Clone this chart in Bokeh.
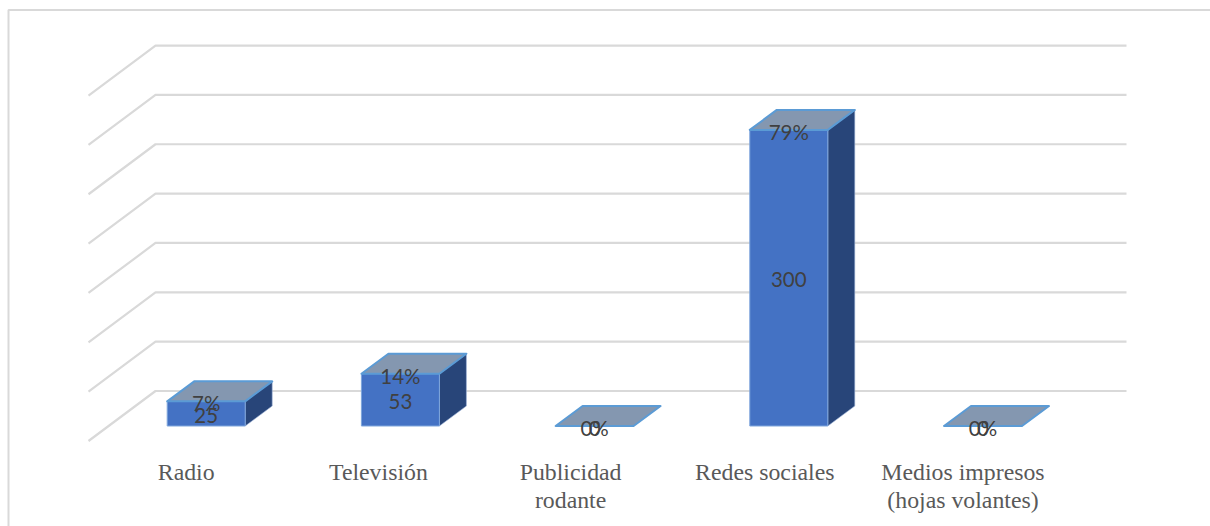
from bokeh.embed import file_html
from bokeh.resources import INLINE
from bokeh.models import Range1d, ColumnDataSource
from bokeh.plotting import figure
from bokeh.core.properties import value

# Survey results per advertising medium
categories = ["Radio", "Televisión", "Publicidad\nrodante", "Redes sociales", "Medios impresos\n(hojas volantes)"]
counts = [25, 53, 0, 300, 0]
percents = ["7%", "14%", "0%", "79%", "0%"]
grid_values = [0, 50, 100, 150, 200, 250, 300, 350]

W, H = 1210, 526

# Pixel scale of the plot: one category step and one count unit
STEP = 194.2
UNIT = 0.987
X0 = 205.7
Y0 = 425.5

def dx(px):
    return px / STEP

def dy(px):
    return px / UNIT

p = figure(width=W, height=H, output_backend="svg", toolbar_location=None,
           x_range=Range1d(-X0 / STEP, (W - X0) / STEP),
           y_range=Range1d((Y0 - H) / UNIT, Y0 / UNIT),
           min_border=0, border_fill_color="white", outline_line_color=None)
p.axis.visible = False
p.grid.visible = False

# Chart frame: its right and bottom sides run off the page
p.line([dx(1215 - X0), dx(8 - X0), dx(8 - X0)],
       [dy(Y0 - 9.5), dy(Y0 - 9.5), dy(Y0 - 530)],
       line_color="#d9d9d9", line_width=2)

# Gridlines: a floor-to-wall slant followed by a run along the back wall
wall_left = dx(155 - X0)
wall_right = dx(1126 - X0)
floor_left = dx(88 - X0)
for v in grid_values:
    p.line([floor_left, wall_left, wall_right],
           [v - dy(15), v + dy(35), v + dy(35)],
           line_color="#d9d9d9", line_width=2.2)

# Three-dimensional columns
half = dx(39)
depth_x = dx(27)
depth_y = dy(20)
EDGE = "#5b9bd5"
for i, c in enumerate(counts):
    if c > 0:
        p.patch([i + half, i + half + depth_x, i + half + depth_x, i + half],
                [0, depth_y, c + depth_y, c],
                fill_color="#284579", line_color="#9db4d8", line_width=0.6)
        p.quad(left=i - half, right=i + half, bottom=0, top=c,
               fill_color="#4472c4", line_color="#7ea6dc", line_width=1)
    p.patch([i - half, i + half, i + half + depth_x, i - half + depth_x],
            [c, c, c + depth_y, c + depth_y],
            fill_color="#8497b0", line_color=EDGE, line_width=2, line_join="round")

# Data labels: percentage at the top of the column, count at its middle
idx = list(range(len(categories)))
label_font = value("Lato")
p.text(idx, [c - dy(2) for c in counts], text=percents,
       text_align="center", text_baseline="middle", text_font=label_font,
       text_font_size="20.5px", text_color="#404040")
p.text(idx, [c / 2 - dy(2) for c in counts], text=[str(c) for c in counts],
       text_align="center", text_baseline="middle", text_font=label_font,
       text_font_size="20.5px", text_color="#404040")

# Category names, set slightly left of each column
cat_source = ColumnDataSource(dict(
    x=[i + dx(o) for i, o in zip(idx, [-20, -22, -24, -24, -20])],
    y=[dy(Y0 - 458)] * len(categories),
    text=categories))
p.text("x", "y", text="text", source=cat_source, text_align="center",
       text_baseline="top", text_font=value("Liberation Serif"),
       text_font_size="23.8px", text_color="#595959", text_line_height=1.08)

open("out.html", "w").write(file_html(p, INLINE))
